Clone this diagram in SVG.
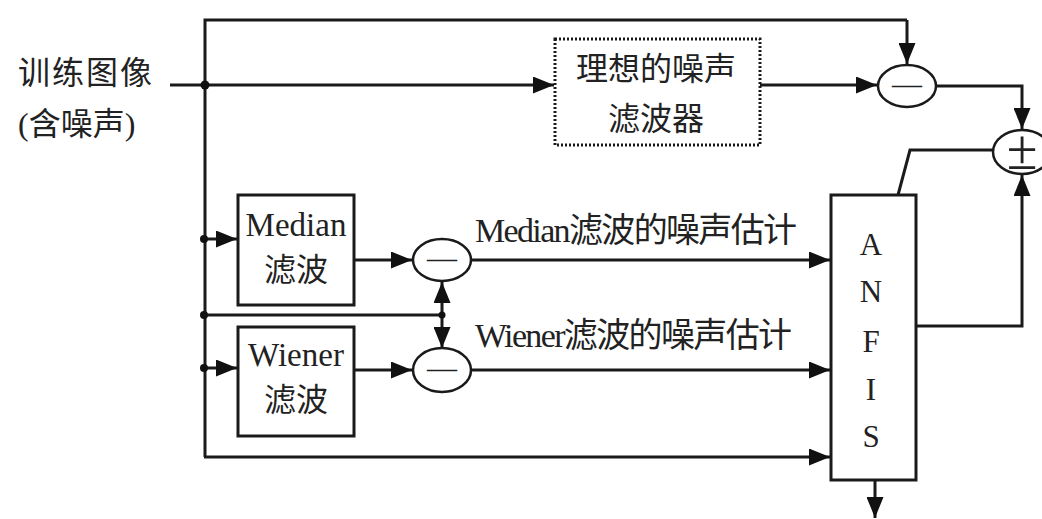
<svg xmlns="http://www.w3.org/2000/svg" width="1042" height="519" viewBox="0 0 1042 519">
<style>
.ln{fill:none;stroke:#1a1a1a;stroke-width:3}
.arr{fill:none;stroke:#1a1a1a;stroke-width:3;marker-end:url(#ah)}
.box{fill:#fff;stroke:#1a1a1a;stroke-width:3}
.dbox{fill:#fff;stroke:#1a1a1a;stroke-width:3;stroke-dasharray:2 2}
.ell{fill:#fff;stroke:#1a1a1a;stroke-width:2.5}
.t{font-family:"Liberation Serif","Noto Sans CJK SC",serif;fill:#222;font-size:32px}
.c{text-anchor:middle}
.dot{fill:#111}
</style>
<defs>
<marker id="ah" markerUnits="userSpaceOnUse" markerWidth="21" markerHeight="17" refX="21" refY="8.5" orient="auto">
<path d="M0,0 L21,8.5 L0,17 z" fill="#111"/>
</marker>
</defs>
<rect width="1042" height="519" fill="#fff"/>
<g id="connectors">
<path class="ln" d="M205,457 V20 H907"/>
<path class="arr" d="M907,20 V64"/>
<path class="arr" d="M170,85 H554"/>
<path class="arr" d="M760,85 H877"/>
<path class="arr" d="M936,86 H1022 V129"/>
<path class="arr" d="M916,326 H1022 V175"/>
<path class="ln" d="M898,195 L910,150 H993"/>
<path class="arr" d="M875,480 V518"/>
<path class="arr" d="M204,239 H237"/>
<path class="arr" d="M204,368 H237"/>
<path class="ln" d="M204,315 H442"/>
<path class="arr" d="M442,315 V282"/>
<path class="arr" d="M442,315 V348"/>
<path class="arr" d="M354,260 H412"/>
<path class="arr" d="M354,370 H412"/>
<path class="arr" d="M471,260 H830"/>
<path class="arr" d="M471,370 H830"/>
<path class="arr" d="M204,457 H830"/>
<circle class="dot" cx="205" cy="85" r="4.5"/>
<circle class="dot" cx="204" cy="239" r="4"/>
<circle class="dot" cx="204" cy="315" r="4"/>
<circle class="dot" cx="204" cy="368" r="4"/>
<circle class="dot" cx="442" cy="315" r="3.5"/>
</g>
<g id="input">
<text class="t" x="18" y="84" textLength="134" lengthAdjust="spacing">训练图像</text>
<text class="t" x="18" y="135">(含噪声)</text>
</g>
<g id="ideal">
<rect class="dbox" x="555" y="39" width="205" height="106"/>
<text class="t c" x="656" y="80">理想的噪声</text>
<text class="t c" x="656" y="130">滤波器</text>
</g>
<g id="sub1">
<ellipse class="ell" cx="907" cy="86" rx="29" ry="21"/>
<text class="t c" x="907" y="94" style="font-size:30px">—</text>
</g>
<g id="sum">
<ellipse class="ell" cx="1022" cy="152" rx="29" ry="22"/>
<text class="t c" x="1022" y="169" style="font-size:56px">±</text>
</g>
<g id="median">
<rect class="box" x="238" y="195" width="116" height="110"/>
<text class="t c" x="296" y="236" style="font-size:33px">Median</text>
<text class="t c" x="296" y="281">滤波</text>
</g>
<g id="wiener">
<rect class="box" x="238" y="327" width="116" height="109"/>
<text class="t c" x="296" y="366" style="font-size:33px">Wiener</text>
<text class="t c" x="296" y="411">滤波</text>
</g>
<g id="subM">
<ellipse class="ell" cx="442" cy="260" rx="29" ry="21"/>
<text class="t c" x="442" y="268" style="font-size:30px">—</text>
</g>
<g id="subW">
<ellipse class="ell" cx="442" cy="370" rx="29" ry="22"/>
<text class="t c" x="442" y="378" style="font-size:30px">—</text>
</g>
<g id="labels">
<text class="t" x="475" y="242" style="font-size:34px" textLength="322" lengthAdjust="spacing">Median滤波的噪声估计</text>
<text class="t" x="475" y="347" style="font-size:34px" textLength="317" lengthAdjust="spacing">Wiener滤波的噪声估计</text>
</g>
<g id="anfis">
<rect class="box" x="831" y="195" width="85" height="285"/>
<text class="t c" x="871" y="255" style="font-size:31px">A</text>
<text class="t c" x="871" y="302" style="font-size:31px">N</text>
<text class="t c" x="871" y="352" style="font-size:31px">F</text>
<text class="t c" x="871" y="400" style="font-size:31px">I</text>
<text class="t c" x="871" y="447" style="font-size:31px">S</text>
</g>
</svg>
